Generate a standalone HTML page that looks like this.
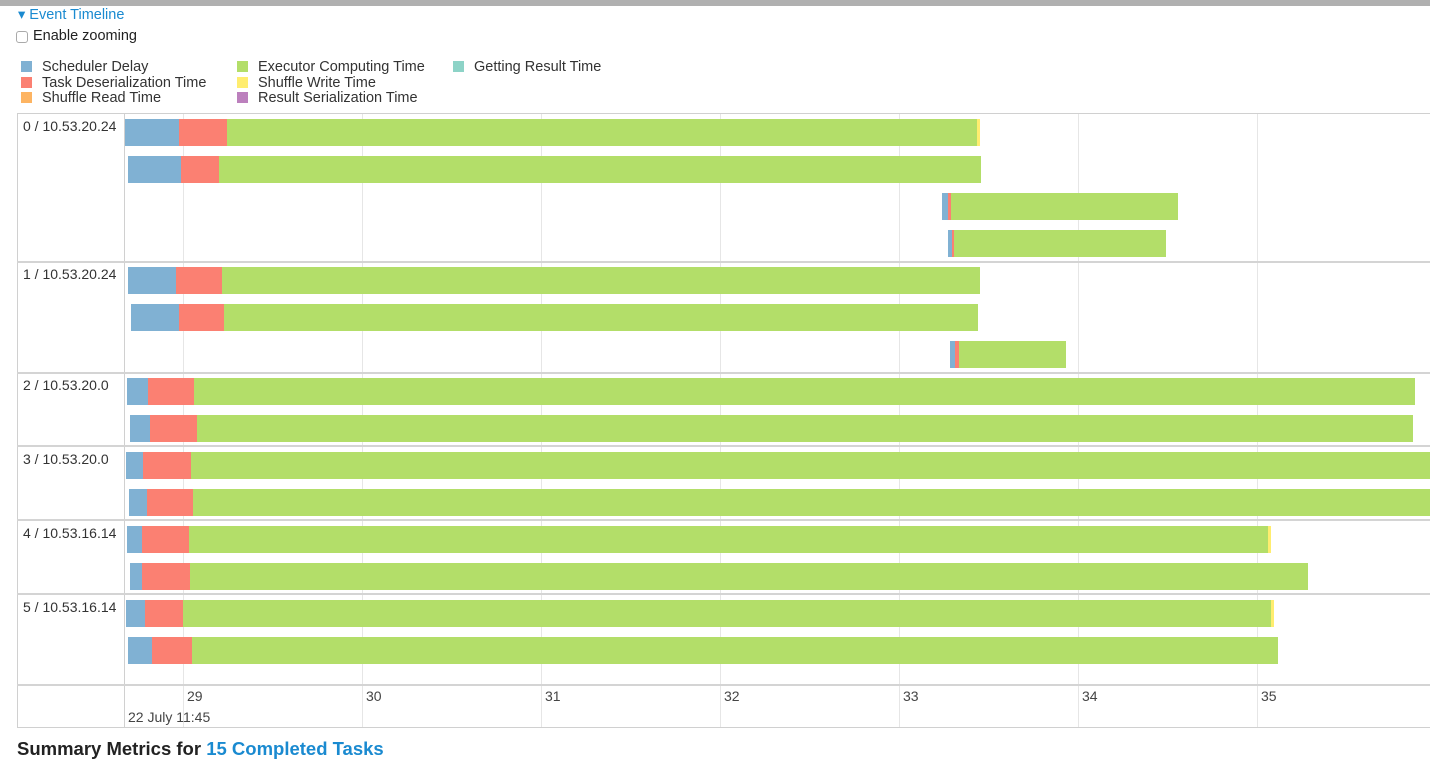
<!DOCTYPE html>
<html><head><meta charset="utf-8"><style>
*{margin:0;padding:0;box-sizing:border-box}
body{width:1430px;height:763px;overflow:hidden;background:#fff;font-family:"Liberation Sans",sans-serif;position:relative;color:#333}
.a{position:absolute}
.b{position:absolute;height:27px}
.s{background:#80b1d3}.d{background:#fb8072}.g{background:#b3de69}.y{background:#ffed6f}
.gl{position:absolute;top:114px;height:613px;width:1px;background:#e6e6e6}
.hl{position:absolute;left:17px;right:0;height:2px;background:#d4d4d4}
.lab{position:absolute;left:23px;font-size:14px;color:#333}
.tk{position:absolute;top:688px;font-size:14px;color:#444}
.lg{position:absolute;font-size:14.5px;color:#333;line-height:16px}
.lg i{position:absolute;left:-21px;top:2px;width:11px;height:11px}
</style></head><body>
<div class="a" style="left:0;top:0;width:1430px;height:6px;background:#b0b0b0"></div>
<div class="a" style="left:18px;top:7px;font-size:14.5px;color:#1a8ad0">&#9662; Event Timeline</div>
<div class="a" style="left:16px;top:31px;width:12px;height:12px;border:1px solid #aaa;border-radius:3px"></div>
<div class="a" style="left:33px;top:28px;font-size:14.5px;color:#222">Enable zooming</div>
<div class="lg" style="left:42px;top:59px"><i class="s"></i>Scheduler Delay</div>
<div class="lg" style="left:42px;top:75px"><i class="d"></i>Task Deserialization Time</div>
<div class="lg" style="left:42px;top:90px"><i style="background:#fdb462"></i>Shuffle Read Time</div>
<div class="lg" style="left:258px;top:59px"><i class="g"></i>Executor Computing Time</div>
<div class="lg" style="left:258px;top:75px"><i class="y"></i>Shuffle Write Time</div>
<div class="lg" style="left:258px;top:90px"><i style="background:#bc80bd"></i>Result Serialization Time</div>
<div class="lg" style="left:474px;top:59px"><i style="background:#8dd3c7"></i>Getting Result Time</div>

<div class="a" style="left:17px;top:113px;width:1420px;height:615px;border:1px solid #d0d0d0"></div>
<div class="a" style="left:124px;top:114px;width:1px;height:613px;background:#d0d0d0"></div>
<div class="gl" style="left:183px"></div><div class="gl" style="left:362px"></div><div class="gl" style="left:541px"></div><div class="gl" style="left:720px"></div><div class="gl" style="left:899px"></div><div class="gl" style="left:1078px"></div><div class="gl" style="left:1257px"></div>
<div class="hl" style="top:261px"></div><div class="hl" style="top:372px"></div><div class="hl" style="top:445px"></div><div class="hl" style="top:519px"></div><div class="hl" style="top:593px"></div><div class="hl" style="top:684px"></div>
<div class="lab" style="top:118px">0 / 10.53.20.24</div>
<div class="lab" style="top:266px">1 / 10.53.20.24</div>
<div class="lab" style="top:377px">2 / 10.53.20.0</div>
<div class="lab" style="top:451px">3 / 10.53.20.0</div>
<div class="lab" style="top:525px">4 / 10.53.16.14</div>
<div class="lab" style="top:599px">5 / 10.53.16.14</div>

<div class="b s" style="top:119px;left:125px;width:54px"></div><div class="b d" style="top:119px;left:179px;width:48px"></div><div class="b g" style="top:119px;left:227px;width:750px"></div><div class="b y" style="top:119px;left:977px;width:3px"></div>
<div class="b s" style="top:156px;left:128px;width:53px"></div><div class="b d" style="top:156px;left:181px;width:38px"></div><div class="b g" style="top:156px;left:219px;width:762px"></div>
<div class="b s" style="top:193px;left:942px;width:6px"></div><div class="b d" style="top:193px;left:948px;width:3px"></div><div class="b g" style="top:193px;left:951px;width:227px"></div>
<div class="b s" style="top:230px;left:948px;width:4px"></div><div class="b d" style="top:230px;left:952px;width:2px"></div><div class="b g" style="top:230px;left:954px;width:212px"></div>
<div class="b s" style="top:267px;left:128px;width:48px"></div><div class="b d" style="top:267px;left:176px;width:46px"></div><div class="b g" style="top:267px;left:222px;width:758px"></div>
<div class="b s" style="top:304px;left:131px;width:48px"></div><div class="b d" style="top:304px;left:179px;width:45px"></div><div class="b g" style="top:304px;left:224px;width:754px"></div>
<div class="b s" style="top:341px;left:950px;width:5px"></div><div class="b d" style="top:341px;left:955px;width:4px"></div><div class="b g" style="top:341px;left:959px;width:107px"></div>
<div class="b s" style="top:378px;left:127px;width:21px"></div><div class="b d" style="top:378px;left:148px;width:46px"></div><div class="b g" style="top:378px;left:194px;width:1221px"></div>
<div class="b s" style="top:415px;left:130px;width:20px"></div><div class="b d" style="top:415px;left:150px;width:47px"></div><div class="b g" style="top:415px;left:197px;width:1216px"></div>
<div class="b s" style="top:452px;left:126px;width:17px"></div><div class="b d" style="top:452px;left:143px;width:48px"></div><div class="b g" style="top:452px;left:191px;width:1239px"></div>
<div class="b s" style="top:489px;left:129px;width:18px"></div><div class="b d" style="top:489px;left:147px;width:46px"></div><div class="b g" style="top:489px;left:193px;width:1237px"></div>
<div class="b s" style="top:526px;left:127px;width:15px"></div><div class="b d" style="top:526px;left:142px;width:47px"></div><div class="b g" style="top:526px;left:189px;width:1079px"></div><div class="b y" style="top:526px;left:1268px;width:3px"></div>
<div class="b s" style="top:563px;left:130px;width:12px"></div><div class="b d" style="top:563px;left:142px;width:48px"></div><div class="b g" style="top:563px;left:190px;width:1118px"></div>
<div class="b s" style="top:600px;left:126px;width:19px"></div><div class="b d" style="top:600px;left:145px;width:38px"></div><div class="b g" style="top:600px;left:183px;width:1088px"></div><div class="b y" style="top:600px;left:1271px;width:3px"></div>
<div class="b s" style="top:637px;left:128px;width:24px"></div><div class="b d" style="top:637px;left:152px;width:40px"></div><div class="b g" style="top:637px;left:192px;width:1086px"></div>

<div class="tk" style="left:187px">29</div><div class="tk" style="left:366px">30</div><div class="tk" style="left:545px">31</div><div class="tk" style="left:724px">32</div><div class="tk" style="left:903px">33</div><div class="tk" style="left:1082px">34</div><div class="tk" style="left:1261px">35</div>
<div class="a" style="left:128px;top:709px;font-size:14px;color:#444">22 July 11:45</div>
<div class="a" style="left:17px;top:738px;font-size:18.5px;font-weight:bold;color:#222">Summary Metrics for <span style="color:#1a8ad0">15 Completed Tasks</span></div>
</body></html>
